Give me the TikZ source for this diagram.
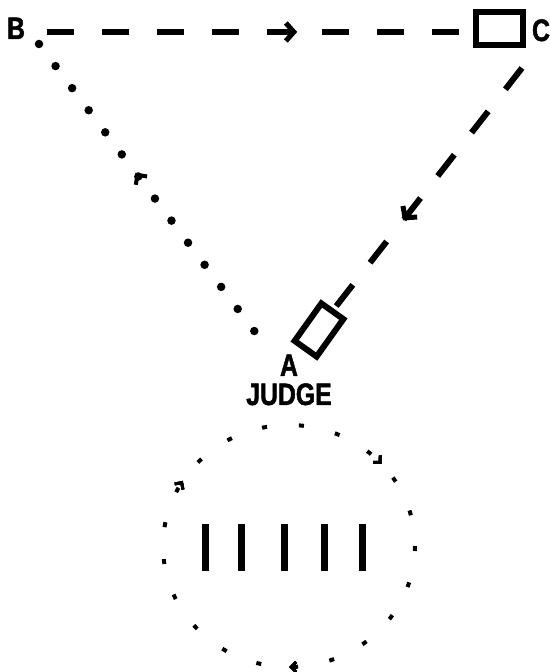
\documentclass[tikz,border=0pt]{standalone}
\usepackage{fontspec}
\usetikzlibrary{arrows.meta,decorations.markings}
\newfontfamily\narrowsans{Liberation Sans Bold}[FakeStretch=0.8,FakeBold=1.5]

\begin{document}
\begin{tikzpicture}[x=1pt,y=1pt,
  lbl/.style={font=\narrowsans\fontsize{31}{31}\selectfont, inner sep=0pt, text height=22pt, text depth=0pt},
  box/.style={draw, line width=6pt, inner sep=0pt},
  headed/.style={postaction={decorate}, decoration={markings, mark=at position #1 with {\draw[solid,line width=5pt,-{Straight Barb[length=8pt,width=18pt]}] (-20pt,0) -- (0,0);}}},
  dot/.style={postaction={decorate}, decoration={markings, mark=at position #1 with {\arrow[line width=3pt]{Straight Barb[length=5pt,width=10pt]}}}}]
\useasboundingbox (0,0) rectangle (550,672);

\node[lbl] (labB) at (16,644) {B};
\node[lbl] (labC) at (541,642) {C};
\node[box, minimum width=47pt, minimum height=33pt] (boxC) at (499,643.5) {};
\node[box, minimum width=27pt, minimum height=46pt, rotate=-35.5] (boxA) at (319,342) {};
\node[lbl] (labA) at (289,307) {A};
\node[lbl] (judge) at (289,278) {JUDGE};

\coordinate (bstart) at (47,640);
\coordinate (cstart) at (522,604);
\coordinate (aend) at (255,340);
\coordinate (bend) at (39,628);

\draw[line width=6pt, dash pattern=on 27pt off 28pt, headed=0.588] (bstart) -- (bstart -| boxC.west);
\draw[line width=6pt, dash pattern=on 27pt off 28pt, headed=0.633] (cstart) -- (boxA.north);
\draw[line width=8.5pt, line cap=round, dash pattern=on 0pt off 27.6pt] (bend) -- (aend);
\path[postaction={decorate}, decoration={markings, mark=at position 0.553 with {\arrow[line width=4pt]{Straight Barb[length=7pt,width=14pt]}}}] (aend) -- (bend);

\draw[line width=4pt, dash pattern=on 5pt off 32pt] (415,126) arc[start angle=0, end angle=-360, x radius=126, y radius=121];
\path[dot=0.25, dot=0.589, dot=0.883] (415,126) arc[start angle=0, end angle=-360, x radius=126, y radius=121];

\foreach \x in {205,241,284,324,362}
  \draw[line width=7pt] (\x,101) -- (\x,148);
\end{tikzpicture}
\end{document}
